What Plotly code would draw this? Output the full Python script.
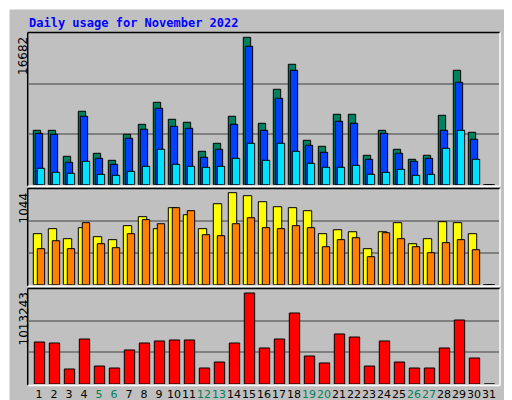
import plotly.graph_objects as go

# daily values (day 31 has no data)
days = list(range(1, 32))
hits = [6157, 6157, 3215, 8309, 3554, 2762, 5705, 6837, 9328, 7403, 7064, 3781, 4687, 7743, 16682,
        6950, 10799, 13629, 5026, 4347, 7969, 7969, 3328, 6157, 4007, 2875, 3328, 7856, 12950, 5932, 0]
files = [5818, 5705, 2536, 7743, 2988, 2309, 5252, 6271, 8648, 6611, 6384, 3102, 4007, 6837, 15667,
         6157, 9780, 12950, 4460, 3668, 7177, 6950, 2875, 5818, 3554, 2649, 2988, 6157, 11592, 5139, 0]
pages = [1856, 1404, 1290, 2649, 1177, 1064, 1517, 2083, 4007, 2309, 2083, 1970, 2083, 2988, 4687,
         2762, 4687, 3781, 2422, 1970, 1970, 2196, 1177, 1404, 1743, 1064, 1177, 4121, 6157, 2875, 0]
visits = [579, 636, 522, 647, 545, 511, 670, 772, 636, 874, 794, 636, 919, 1044, 1010,
          942, 885, 874, 840, 579, 624, 601, 409, 601, 704, 465, 522, 715, 704, 579, 0]
sites = [409, 499, 409, 704, 465, 420, 579, 738, 692, 874, 840, 567, 556, 692, 760,
         647, 636, 670, 647, 431, 511, 533, 318, 590, 522, 431, 363, 477, 511, 397, 0]
kbytes = [467600, 456500, 167000, 501000, 200000, 178000, 379000, 456500, 479000, 490000, 490000,
          178000, 245000, 456500, 1013243, 401000, 501000, 790500, 312000, 234000, 557000, 523000,
          200000, 479000, 245000, 178000, 178000, 401000, 712600, 289500, 0]
weekend = [5, 6, 12, 13, 19, 20, 26, 27]

W, H = 512, 400
BG = "#C0C0C0"
x0, x1 = 20.7, 491
panels = [(25, 176.7), (181, 276.7), (281, 376)]  # top, bottom in px
ranges = [16682 * 151.7 / 147.4, 1044 * 95.7 / 92, 1013243 * 95 / 91]

fig = go.Figure()

def bar(y, color, off, width, axis):
    fig.add_trace(go.Bar(x=days, y=y, offset=off, width=width, marker_color=color,
                         marker_line=dict(color="black", width=1), xaxis="x" + axis, yaxis="y" + axis))

bar(hits, "#00805C", -0.38, 0.49, "")
bar(files, "#0040FF", -0.247, 0.49, "")
bar(pages, "#00E0FF", -0.113, 0.49, "")
bar(visits, "#FFFF00", -0.38, 0.56, "2")
bar(sites, "#FF8000", -0.113, 0.49, "2")
bar(kbytes, "#FF0000", -0.313, 0.69, "3")

xr = [(x0 - 16) / 15, (x1 - 16) / 15]
ticktext = ["<span style='color:#00805C'>%d</span>" % d if d in weekend else str(d) for d in days]
layout = dict(width=W, height=H, autosize=False, margin=dict(l=0, r=0, t=0, b=0),
              paper_bgcolor=BG, plot_bgcolor=BG, showlegend=False, barmode="overlay")
for i, (top, bot) in enumerate(panels):
    s = "" if i == 0 else str(i + 1)
    dom = [(H - bot) / H, (H - top) / H]
    layout["xaxis" + s] = dict(domain=[x0 / W, x1 / W], range=xr, anchor="y" + s,
                               showgrid=False, zeroline=False, tickangle=0,
                               showticklabels=(i == 2), tickvals=days, ticktext=ticktext,
                               ticks="", ticklabelstandoff=2,
                               tickfont=dict(family="DejaVu Sans", size=11, color="black"))
    layout["yaxis" + s] = dict(domain=dom, range=[0, ranges[i]], anchor="x" + s,
                               tickvals=[ranges[i] / 3, 2 * ranges[i] / 3], showticklabels=False,
                               gridcolor="#808080", gridwidth=1.5, zeroline=False)
fig.update_layout(**layout)

shapes = []
for top, bot in panels:
    yt, yb = (H - top + 0.5) / H, (H - bot - 1.5) / H
    xl, xr_ = (x0 - 1) / W, (x1 + 1) / W
    shapes += [dict(type="line", xref="paper", yref="paper", x0=xl, x1=xr_, y0=yt, y1=yt, line=dict(color="black", width=1.5)),
               dict(type="line", xref="paper", yref="paper", x0=xl, x1=xl, y0=yb, y1=yt, line=dict(color="black", width=1.5)),
               dict(type="line", xref="paper", yref="paper", x0=xr_, x1=xr_, y0=yb, y1=yt, line=dict(color="white", width=1.5)),
               dict(type="line", xref="paper", yref="paper", x0=xl, x1=xr_, y0=yb, y1=yb, line=dict(color="white", width=1.5))]
# outer 3D frame
shapes += [dict(type="line", xref="paper", yref="paper", x0=0, x1=1, y0=0.003, y1=0.003, line=dict(color="#606060", width=5)),
           dict(type="line", xref="paper", yref="paper", x0=0.997, x1=0.997, y0=0, y1=1, line=dict(color="#606060", width=5)),
           dict(type="line", xref="paper", yref="paper", x0=0, x1=1, y0=0.999, y1=0.999, line=dict(color="white", width=2)),
           dict(type="line", xref="paper", yref="paper", x0=0.001, x1=0.001, y0=0, y1=1, line=dict(color="white", width=2))]
fig.update_layout(shapes=shapes)

mono = "DejaVu Sans Mono"
ann = [dict(text="<b>Daily usage for November 2022</b>", x=19 / W, y=(H - 15) / H, xanchor="left", yanchor="middle",
            font=dict(family=mono, size=12, color="#0000FF"))]
for (top, bot), lab in zip(panels, ["16682", "1044", "1013243"]):
    ann.append(dict(text=lab, textangle=-90, x=15 / W, y=(H - top - 2) / H, xanchor="center", yanchor="top",
                    font=dict(family="DejaVu Sans", size=12, color="black")))
ann.append(dict(text="<span style='color:#00E0FF'>Pages</span> / <span style='color:#0040FF'>Files</span> / <span style='color:#00805C'>Hits</span>",
                textangle=-90, x=494 / W, y=(H - 28) / H, xanchor="left", yanchor="top",
                font=dict(family=mono, size=12, color="#00805C")))
ann.append(dict(text="<span style='color:#FF8000'>Sites</span> / <span style='color:#FFFF00'>Visits</span>",
                textangle=-90, x=494 / W, y=(H - 277) / H, xanchor="left", yanchor="bottom",
                font=dict(family=mono, size=12, color="#FF8000")))
ann.append(dict(text="KBytes", textangle=-90, x=494 / W, y=(H - 377) / H, xanchor="left", yanchor="bottom",
                font=dict(family=mono, size=12, color="#FF0000")))
for a in ann:
    a.update(xref="paper", yref="paper", showarrow=False)
fig.update_layout(annotations=ann)

fig.write_html("out.html")
